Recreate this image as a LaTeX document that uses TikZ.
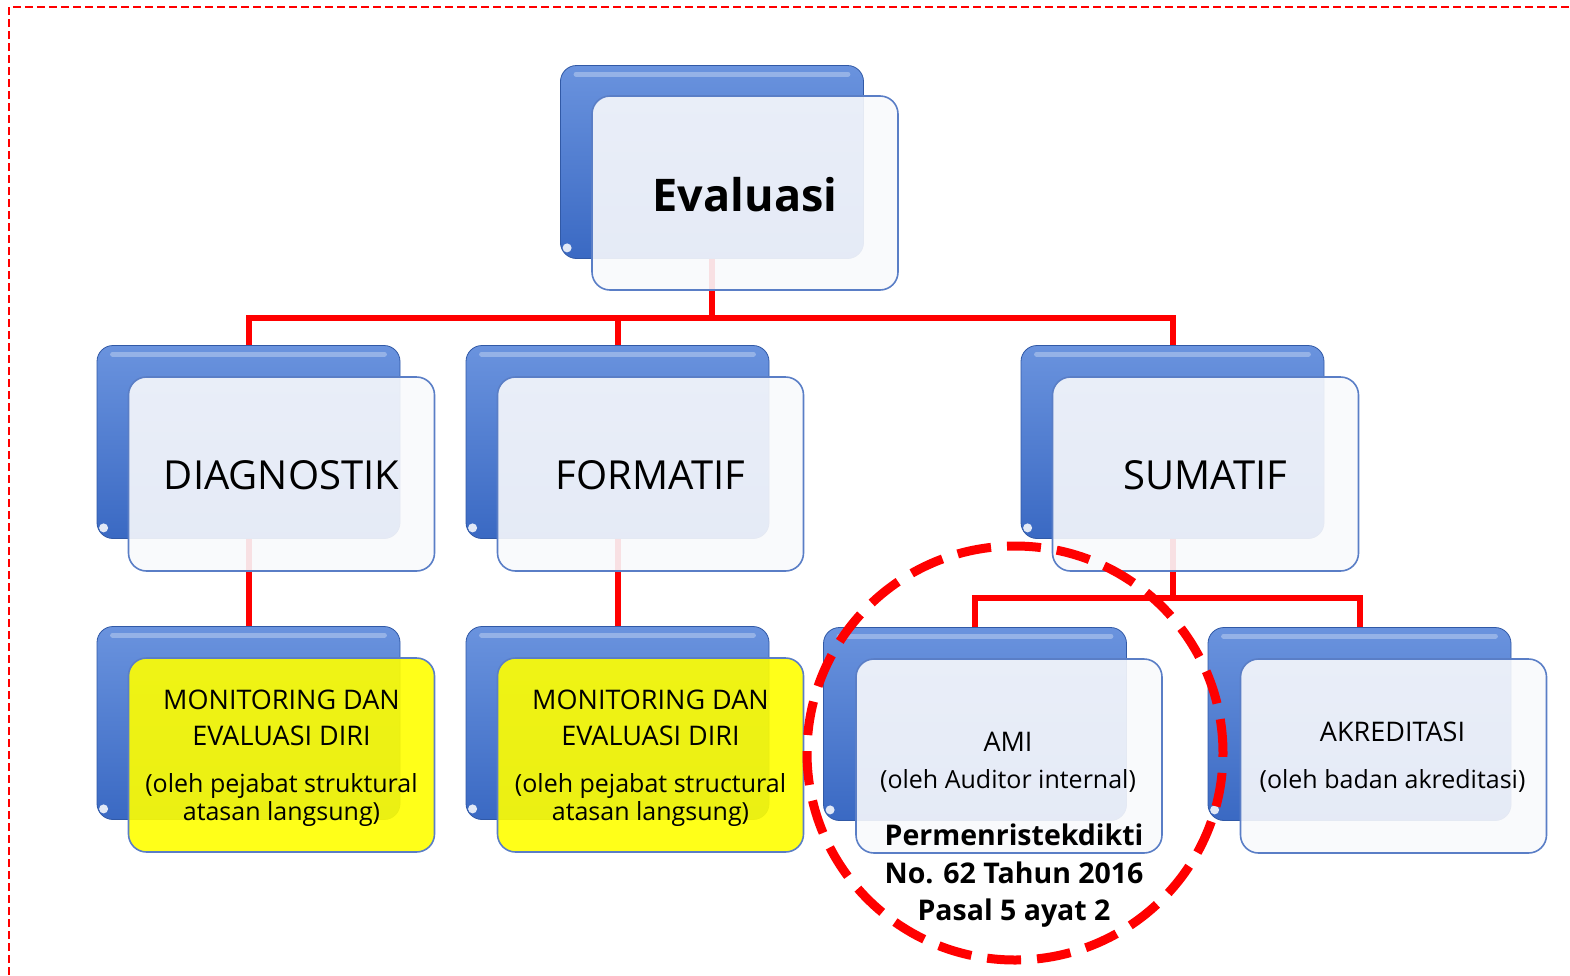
\documentclass[tikz,border=0pt]{standalone}
\usepackage{fontspec}
\setmainfont{Open Sans}
\usetikzlibrary{calc}
\definecolor{blueTop}{HTML}{6A93DE}
\definecolor{blueBot}{HTML}{3A69C3}
\definecolor{frameBlue}{HTML}{5A7EC6}
\definecolor{paneTint}{HTML}{F8F9FC}
\definecolor{hiRed}{HTML}{FF0000}
\definecolor{memo}{HTML}{FFFF00}
\tikzset{
  backbox/.style={rectangle, rounded corners=16pt, minimum width=303pt,
    minimum height=193pt, top color=blueTop, bottom color=blueBot,
    draw=blueBot!85!black, line width=0.8pt, inner sep=0pt},
  frontbox/.style={rectangle, rounded corners=18pt, minimum width=306pt,
    minimum height=194pt, draw=frameBlue, line width=1.6pt, fill=paneTint,
    fill opacity=0.9, inner sep=0pt},
  conn/.style={hiRed, line width=6pt},
  label/.style={anchor=base, inner sep=0pt},
  headline/.style={label, font=\fontsize{40}{48}\selectfont},
  rootline/.style={label, font=\bfseries\fontsize{45}{52}\selectfont},
  leafline/.style={label, font=\fontsize{27}{34}\selectfont},
  noteline/.style={label, font=\fontsize{25}{30}\selectfont},
  lawline/.style={label, font=\bfseries\fontsize{28.5}{36}\selectfont}
}
% glossy highlights on a back box
\newcommand\glossy[1]{%
  \draw[white, opacity=0.3, line width=5pt, line cap=round]
    ($(#1.north west)+(16,9)$) -- ($(#1.north east)+(-16,9)$);
  \fill[white, opacity=0.85] ($(#1.south west)+(7,-11)$) circle (4.5pt);
}
\begin{document}
\begin{tikzpicture}[x=1pt, y=-1pt]
\useasboundingbox (0,0) rectangle (1570,975);

% outer dashed frame
\draw[hiRed, line width=2.5pt, dash pattern=on 8pt off 4pt]
  (9,975) -- (9,7) -- (1570,7);

% back (blue) boxes
\node[backbox] (eva-b)  at (712,162) {};
\node[backbox] (diag-b) at (248.5,442) {};
\node[backbox] (form-b) at (617.5,442) {};
\node[backbox] (sum-b)  at (1172.5,442) {};
\node[backbox] (mon1-b) at (248.5,723) {};
\node[backbox] (mon2-b) at (617.5,723) {};
\node[backbox] (ami-b)  at (975,724) {};
\node[backbox] (akr-b)  at (1359.5,724) {};
\foreach \n in {eva-b,diag-b,form-b,sum-b,mon1-b,mon2-b,ami-b,akr-b}{\glossy{\n}}

% connectors
\coordinate (busA) at (712,318);
\coordinate (busB) at (1172.5,598);
\draw[conn] (eva-b.south) -- (busA);
\draw[conn] (diag-b.north) -- (diag-b.north |- busA) -- (sum-b.north |- busA) -- (sum-b.north);
\draw[conn] (form-b.north) -- (form-b.north |- busA);
\draw[conn] (diag-b.south) -- (mon1-b.north);
\draw[conn] (form-b.south) -- (mon2-b.north);
\draw[conn] (sum-b.south) -- (busB);
\draw[conn] (ami-b.north) -- (ami-b.north |- busB) -- (akr-b.north |- busB) -- (akr-b.north);

% front boxes
\node[frontbox] (eva)  at ($(eva-b)+(33,31)$) {};
\node[frontbox] (diag) at ($(diag-b)+(33,32)$) {};
\node[frontbox] (form) at ($(form-b)+(33,32)$) {};
\node[frontbox] (sum)  at ($(sum-b)+(33,32)$) {};
\node[frontbox, fill=memo, fill opacity=0.9] (mon1) at ($(mon1-b)+(33,32)$) {};
\node[frontbox, fill=memo, fill opacity=0.9] (mon2) at ($(mon2-b)+(33,32)$) {};
\node[frontbox] (ami) at ($(ami-b)+(34,32)$) {};
\node[frontbox] (akr) at ($(akr-b)+(34,32)$) {};

% box texts, placed by baseline
\node[rootline] (eva-t) at ($(eva)+(0,18)$) {Evaluasi};
\node[headline] (diag-t) at ($(diag)+(0,15)$) {DIAGNOSTIK};
\node[headline] (form-t) at ($(form)+(0,15)$) {FORMATIF};
\node[headline] (sum-t)  at ($(sum)+(0,15)$) {SUMATIF};

\node[leafline] (mon1-t1) at ($(mon1)+(0,-46)$) {MONITORING DAN};
\node[leafline] (mon1-t2) at ($(mon1)+(0,-10)$) {EVALUASI DIRI};
\node[noteline] (mon1-t3) at ($(mon1)+(0,37)$) {(oleh pejabat struktural};
\node[noteline] (mon1-t4) at ($(mon1)+(0,65)$) {atasan langsung)};

\node[leafline] (mon2-t1) at ($(mon2)+(0,-46)$) {MONITORING DAN};
\node[leafline] (mon2-t2) at ($(mon2)+(0,-10)$) {EVALUASI DIRI};
\node[noteline] (mon2-t3) at ($(mon2)+(0,37)$) {(oleh pejabat structural};
\node[noteline] (mon2-t4) at ($(mon2)+(0,65)$) {atasan langsung)};

\node[leafline] (ami-t1) at ($(ami)+(-1,-5)$) {AMI};
\node[noteline] (ami-t2) at ($(ami)+(-1,32)$) {(oleh Auditor internal)};

\node[leafline] (akr-t1) at ($(akr)+(-1,-15)$) {AKREDITASI};
\node[noteline] (akr-t2) at ($(akr)+(-1,32)$) {(oleh badan akreditasi)};

% regulation note and highlight ring
\node[lawline] (law1) at (1014,845) {Permenristekdikti};
\node[lawline] (law2) at (1014,883) {No. 62 Tahun 2016};
\node[lawline] (law3) at (1014,920) {Pasal 5 ayat 2};
\draw[hiRed, line width=9pt, dash pattern=on 34pt off 16pt]
  (1015,753) ellipse [x radius=208pt, y radius=207pt];
\end{tikzpicture}
\end{document}
